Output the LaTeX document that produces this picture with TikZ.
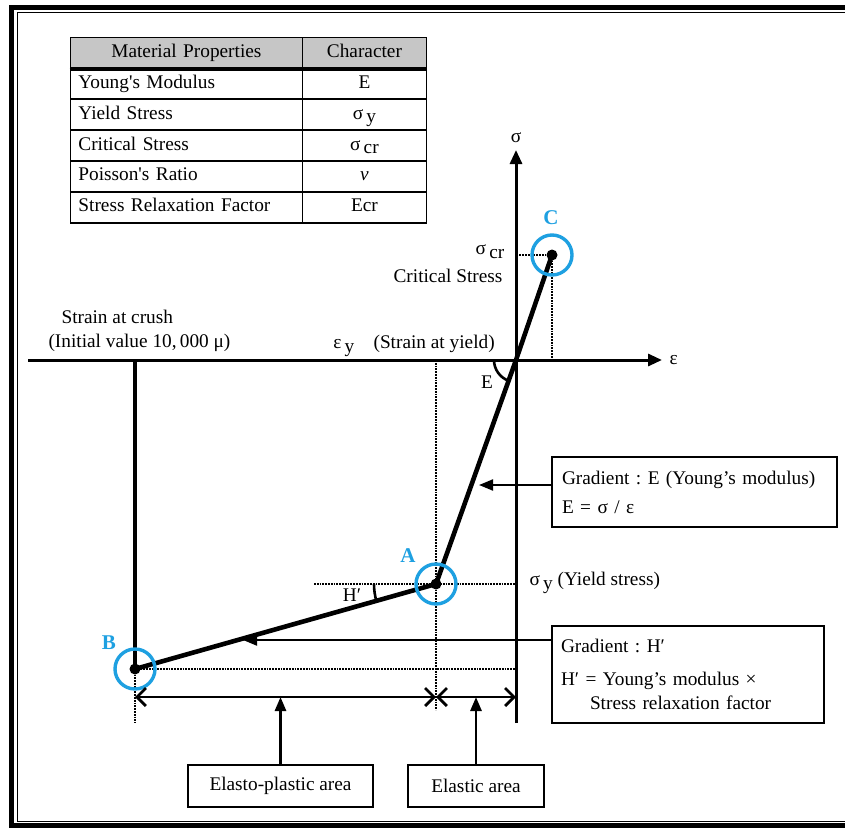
\documentclass[tikz,border=0pt]{standalone}
\usepackage{fontspec}
\setmainfont{Liberation Serif}
\frenchspacing
\usetikzlibrary{matrix,arrows.meta,positioning}
\definecolor{ringblue}{RGB}{30,160,225}
\tikzset{
	axis/.style={line width=3pt,-{Triangle[length=14pt,width=12pt]}},
	curve/.style={line width=4.6pt,line join=round},
	guide/.style={densely dotted,line width=1.8pt},
	ring/.style={circle,draw=ringblue,line width=3.4pt,minimum size=40pt,inner sep=0pt},
	dot/.style={circle,fill,minimum size=11pt,inner sep=0pt},
	ptlabel/.style={text=ringblue,font=\fontsize{21}{24}\selectfont\bfseries},
	infobox/.style={draw,line width=1.9pt,align=left,inner xsep=9pt},
	pointer/.style={line width=2pt,-{Triangle[length=14pt,width=11pt]}},
	span/.style={line width=2.8pt,{Straight Barb[length=9pt,width=18pt]}-{Straight Barb[length=9pt,width=18pt]}},
	anglemark/.style={line width=2.6pt},
}
\begin{document}
\begin{tikzpicture}[x=1pt,y=-1pt,font=\fontsize{19.3}{24}\selectfont]
	\useasboundingbox (0,0) rectangle (845,827);
	\draw[line width=5.5pt] (11.5,7.5) rectangle (870,825.5);
	\draw[line width=1.5pt] (17.5,12.5) rectangle (870,821.5);

	\matrix (props) [matrix of nodes, anchor=north west, row sep=-1.8pt, column sep=-1.8pt,
		nodes={draw, line width=1.8pt, minimum height=30.9pt, text height=13pt, text depth=4pt},
		column 1/.style={nodes={text width=216pt, inner xsep=8pt, align=left}},
		column 2/.style={nodes={minimum width=124pt}},
		row 1/.style={nodes={fill=gray!45}}] at (66,33)
	{
		|[align=center]| Material Properties & Character \\
		Young\textquotesingle s Modulus & E \\
		Yield Stress & σ\,\raisebox{-3pt}{y} \\
		Critical Stress & σ\,\raisebox{-3pt}{cr} \\
		Poisson\textquotesingle s Ratio & \textit{ν} \\
		Stress Relaxation Factor & Ecr \\
	};
	\draw[line width=3pt] (props-1-1.south west) -- (props-1-2.south east);

	\coordinate (O) at (516,360);
	\coordinate (sigbot) at (516,723);
	\coordinate (sigtop) at (516,150);
	\coordinate (epsleft) at (28,360);
	\coordinate (epsright) at (662,360);
	\coordinate (C) at (552,255);
	\coordinate (A) at (436,584);
	\coordinate (B) at (135,669);
	\coordinate (crush) at (135,360);
	\coordinate (Aleft) at (314,584);
	\coordinate (Abot) at (436,710);
	\coordinate (Bbot) at (135,723);
	\coordinate (dimL) at (135,697);
	\coordinate (onOA) at (479,485);
	\coordinate (onAB) at (243,640);

	\draw[axis] (sigbot) -- (sigtop);
	\draw[axis] (epsleft) -- (epsright);
	\node[above=4pt of sigtop] (sig) {σ};
	\node[right=4pt of epsright] (eps) {ε};

	\draw[guide] (C) -- (C -| O) (C) -- (C |- O);
	\draw[guide] (Aleft) -- (A -| O) (A |- O) -- (Abot);
	\draw[guide] (B) -- (B -| O) (B) -- (Bbot);

	\draw[line width=3.6pt] (crush) -- (B);
	\draw[curve] (C) -- (O) -- (A) -- (B);
	\draw[anglemark] ([shift={(180:22)}]O) arc[start angle=180, end angle=109, radius=22];
	\draw[anglemark] ([shift={(180:62)}]A) arc[start angle=180, end angle=164, radius=62];

	\node[dot] (Cdot) at (C) {};
	\node[dot] (Adot) at (A) {};
	\node[dot] (Bdot) at (B) {};
	\node[ring] (Cring) at (C) {};
	\node[ring] (Aring) at (A) {};
	\node[ring] (Bring) at (B) {};
	\node[ptlabel] (Clab) at (551,218) {C};
	\node[ptlabel] (Alab) at (408,556) {A};
	\node[ptlabel] (Blab) at (109,643) {B};

	\node (sigcr) at (490,252) {σ\,\raisebox{-4pt}{cr}};
	\node (critlab) at (448,276) {Critical Stress};
	\node (epsy) at (414,346) {ε\,\raisebox{-4pt}{y}\quad(Strain at yield)};
	\node (Elab) at (487,382) {E};
	\node[anchor=west] (sigy) at (526,583) {σ\,\raisebox{-4pt}{y} (Yield stress)};
	\node (Hlab) at (352,595) {H′};
	\node[align=left, anchor=west] (crushlab) at (45,331) {\hspace*{13pt}Strain at crush\\(Initial value 10,\,000 μ)};

	\draw[span] (dimL) -- (dimL -| A);
	\draw[span] (dimL -| A) -- (dimL -| O);

	\node[infobox, minimum width=185pt, minimum height=42pt] (plastic) at (280.5,786) {Elasto-plastic area};
	\node[infobox, minimum width=136pt, minimum height=42pt] (elastic) at (476,786) {Elastic area};
	\node[infobox, text width=265pt, inner xsep=10pt, minimum height=70pt] (gradE) at (694.5,492)
		{Gradient : E (Young’s modulus)\\[5pt]E = σ / ε};
	\node[infobox, text width=254pt, minimum height=97pt] (gradH) at (688,674.5)
		{Gradient : H′\\[9pt]H′ = Young’s modulus ×\\\hspace*{29pt}Stress relaxation factor};

	\path[pointer, line width=2.8pt] (plastic.north) edge (plastic.north |- dimL)
		(elastic.north) edge (elastic.north |- dimL);
	\path[pointer] (gradE.west |- onOA) edge (onOA)
		(gradH.west |- onAB) edge (onAB);
\end{tikzpicture}
\end{document}
